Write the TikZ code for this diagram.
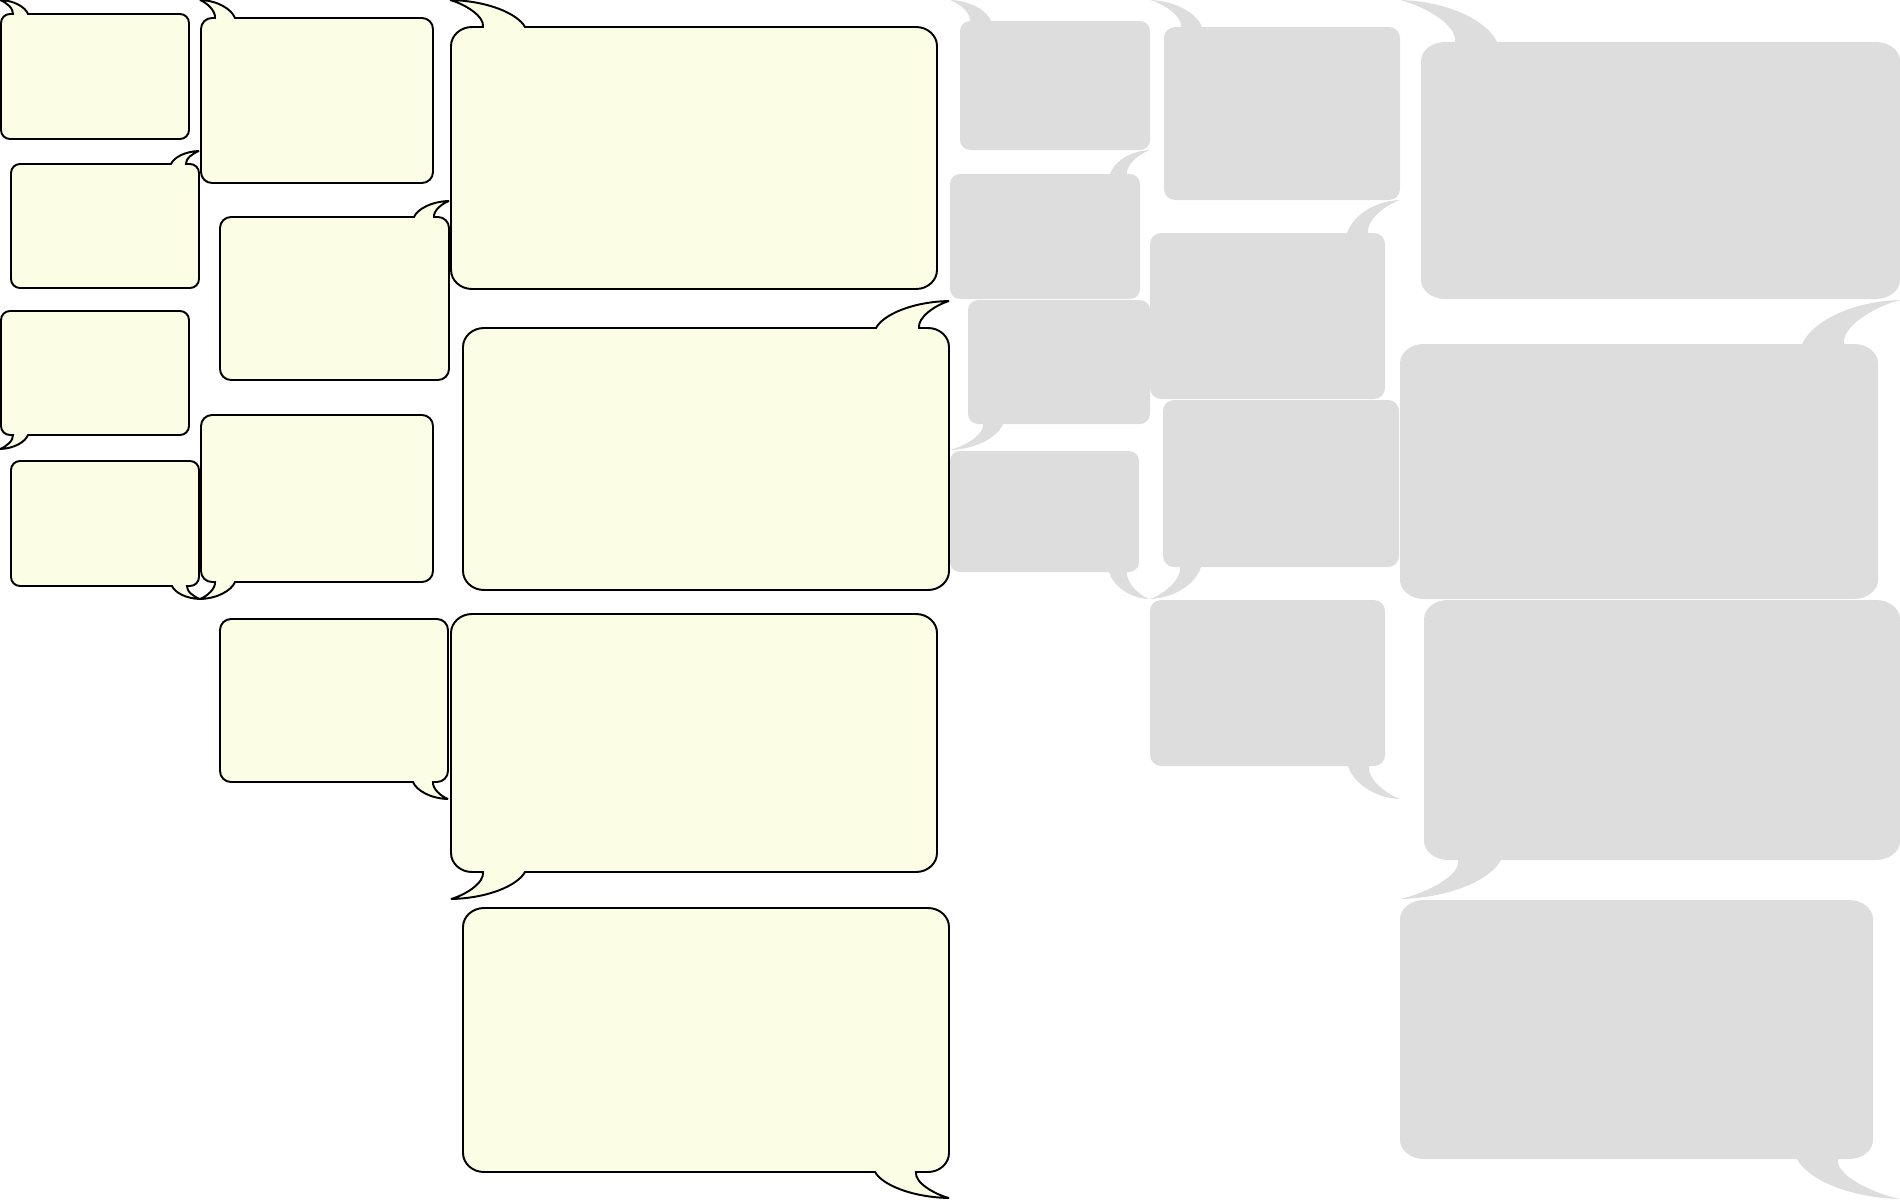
\documentclass[tikz,border=0pt]{standalone}
\usepackage{tikz}
\usetikzlibrary{calc}

\definecolor{bubyellow}{RGB}{251,254,228}
\definecolor{bubgray}{RGB}{221,221,221}

\tikzset{
  yelbub/.style={draw=black, fill=bubyellow, line width=0.55pt, miter limit=3},
  graybub/.style={fill=bubgray}
}

% speech bubble, tail tip at the origin, tail up and left
% #1 options, #2 dx, #3 dy, #4 w, #5 h, #6 rx, #7 ry, #8 inner, #9 outer
\newcommand\bubble[9]{%
  \pgfmathsetmacro\bxl{#2}\pgfmathsetmacro\bxt{#3}%
  \pgfmathsetmacro\bxr{#2+#4}\pgfmathsetmacro\bxb{#3+#5}%
  \path[#1] (0,0) .. controls (0.5*#9,0.03*\bxt) and (0.9*#9,0.5*\bxt) .. (#9,\bxt)
    -- (\bxr-#6,\bxt) .. controls (\bxr-0.45*#6,\bxt) and (\bxr,\bxt+0.45*#7) .. (\bxr,\bxt+#7)
    -- (\bxr,\bxb-#7) .. controls (\bxr,\bxb-0.45*#7) and (\bxr-0.45*#6,\bxb) .. (\bxr-#6,\bxb)
    -- (\bxl+#6,\bxb) .. controls (\bxl+0.45*#6,\bxb) and (\bxl,\bxb-0.45*#7) .. (\bxl,\bxb-#7)
    -- (\bxl,\bxt+#7) .. controls (\bxl,\bxt+0.45*#7) and (\bxl+0.45*#6,\bxt) .. (\bxl+#6,\bxt)
    -- (#8,\bxt) .. controls (1.05*#8,0.6*\bxt) and (0.45*#8,0.15*\bxt) .. (0,0) -- cycle;}

\begin{document}
\begin{tikzpicture}[x=0.01cm, y=-0.01cm]
  \useasboundingbox (0,0) rectangle (1900,1200);

  % yellow, small
  \bubble{yelbub,shift={(0,0)}}{1}{14}{188}{125}{9}{9}{13}{28}
  \bubble{yelbub,shift={(199,151)},xscale=-1}{0}{13}{188}{124}{9}{9}{13}{28}
  \bubble{yelbub,shift={(0,449)},yscale=-1}{1}{14}{188}{124}{9}{9}{13}{28}
  \bubble{yelbub,shift={(200,599)},xscale=-1,yscale=-1}{1}{13}{188}{125}{9}{9}{13}{28}
  % yellow, medium
  \bubble{yelbub,shift={(200,0)}}{1}{18}{232}{165}{11}{11}{15}{35}
  \bubble{yelbub,shift={(449,201)},xscale=-1}{0}{16}{229}{163}{11}{11}{15}{35}
  \bubble{yelbub,shift={(200,599)},yscale=-1}{1}{17}{232}{167}{11}{11}{15}{35}
  \bubble{yelbub,shift={(448,799)},xscale=-1,yscale=-1}{0}{17}{228}{163}{11}{11}{15}{35}
  % yellow, large
  \bubble{yelbub,shift={(450,0)}}{1}{27}{486}{262}{21}{19}{33}{75}
  \bubble{yelbub,shift={(949,301)},xscale=-1}{0}{27}{486}{262}{21}{19}{30}{73}
  \bubble{yelbub,shift={(451,899)},yscale=-1}{0}{27}{486}{258}{21}{19}{32}{74}
  \bubble{yelbub,shift={(949,1198)},xscale=-1,yscale=-1}{0}{26}{486}{264}{21}{19}{33}{74}

  % gray, small
  \bubble{graybub,shift={(950,0)}}{10}{21}{190}{129}{10}{10}{20}{41}
  \bubble{graybub,shift={(1150,150)},xscale=-1}{10}{24}{190}{125}{10}{10}{23}{40}
  \bubble{graybub,shift={(950,450)},yscale=-1}{18}{26}{182}{124}{10}{10}{33}{53}
  \bubble{graybub,shift={(1149,599)},xscale=-1,yscale=-1}{10}{27}{189}{121}{10}{10}{22}{40}
  % gray, medium
  \bubble{graybub,shift={(1150,0)}}{14}{27}{236}{173}{11}{11}{31}{52}
  \bubble{graybub,shift={(1400,200)},xscale=-1}{15}{33}{235}{166}{11}{11}{32}{53}
  \bubble{graybub,shift={(1150,599)},yscale=-1}{13}{32}{236}{167}{11}{11}{30}{51}
  \bubble{graybub,shift={(1400,799)},xscale=-1,yscale=-1}{15}{33}{235}{166}{11}{11}{31}{52}
  % gray, large
  \bubble{graybub,shift={(1400,0)}}{21}{42}{479}{257}{24}{19}{55}{97}
  \bubble{graybub,shift={(1900,300)},xscale=-1}{22}{44}{478}{255}{24}{19}{56}{98}
  \bubble{graybub,shift={(1400,899)},yscale=-1}{24}{39}{476}{260}{24}{19}{58}{101}
  \bubble{graybub,shift={(1900,1199)},xscale=-1,yscale=-1}{27}{40}{473}{259}{24}{19}{62}{103}
\end{tikzpicture}
\end{document}
